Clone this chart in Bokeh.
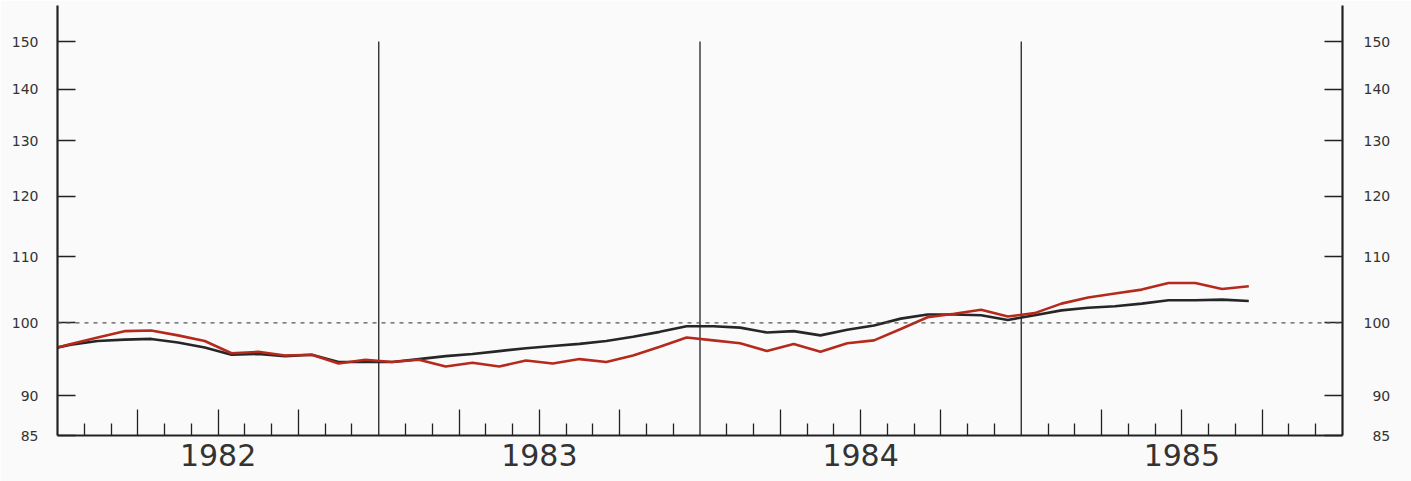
from bokeh.plotting import figure
from bokeh.models import Range1d, FixedTicker, LogAxis, Span
from bokeh.embed import file_html
from bokeh.resources import INLINE

# ---------------- data ----------------
years = [1982, 1983, 1984, 1985]
# monthly observations from Dec 1981 to Sep 1985 (index values)
start_year, start_month = 1981, 12
red = [96.0,
       97.0, 97.9, 98.8, 98.9, 98.2, 97.4, 95.7, 95.9, 95.4, 95.5, 94.3, 94.8,
       94.5, 94.8, 93.9, 94.4, 93.9, 94.7, 94.3, 94.9, 94.5, 95.4, 96.6, 97.9,
       97.5, 97.1, 96.0, 97.0, 95.9, 97.1, 97.5, 99.1, 100.8, 101.3, 101.9, 100.9,
       101.4, 102.8, 103.7, 104.3, 104.9, 105.9, 105.9, 105.0, 105.4]
black = [96.1,
         96.9, 97.4, 97.6, 97.7, 97.2, 96.5, 95.5, 95.6, 95.3, 95.5, 94.5, 94.5,
         94.5, 94.9, 95.3, 95.6, 96.0, 96.4, 96.7, 97.0, 97.4, 98.0, 98.7, 99.5,
         99.5, 99.3, 98.6, 98.8, 98.2, 99.0, 99.6, 100.6, 101.2, 101.2, 101.1, 100.4,
         101.1, 101.8, 102.2, 102.4, 102.8, 103.3, 103.3, 103.4, 103.2]
y_ticks = [85, 90, 100, 110, 120, 130, 140, 150]
reference_level = 100

# x positions: mid-month, in fractional years
x = []
for i in range(len(red)):
    m = start_month - 1 + i
    yy = start_year + m // 12
    mm = m % 12
    x.append(yy + (mm + 0.5) / 12)

x0, x1 = years[0], years[-1] + 1
y0, y1 = 85, 158.0

p = figure(width=1411, height=481, output_backend="svg", toolbar_location=None,
           x_range=Range1d(x0, x1), y_range=Range1d(y0, y1), y_axis_type="log",
           min_border_left=57, min_border_right=69, min_border_top=5,
           min_border_bottom=46)
p.background_fill_color = "#fafafa"
p.border_fill_color = "#fafafa"
p.outline_line_color = None
p.xgrid.visible = False
p.ygrid.visible = False

AX = "#222222"
TXT = "#333333"
FS = "\u2007"  # figure space, same width as a digit


def pad(v):
    s = str(v)
    return FS * (3 - len(s)) + s


# bottom axis: months (minor), quarters (major), year names at mid-year
quarters = [yv + q / 4 for yv in years for q in (1, 2, 3)]
months = [yv + m / 12 for yv in years for m in range(1, 12) if m % 3 != 0]
xa = p.xaxis[0]
xa.ticker = FixedTicker(ticks=quarters, minor_ticks=months)
xa.major_label_overrides = {q: (str(int(q)) if abs(q - int(q) - 0.5) < 1e-9 else "")
                            for q in quarters}
xa.axis_line_color = AX
xa.axis_line_width = 2.2
xa.major_tick_in = 26
xa.major_tick_out = 0
xa.minor_tick_in = 12
xa.minor_tick_out = 0
xa.major_tick_line_color = AX
xa.minor_tick_line_color = AX
xa.major_tick_line_width = 1.3
xa.minor_tick_line_width = 1.3
xa.major_label_text_font = "DejaVu Sans"
xa.major_label_text_font_size = "30px"
xa.major_label_text_color = TXT
xa.major_label_standoff = 8


def style_y(ax, standoff):
    ax.ticker = FixedTicker(ticks=y_ticks)
    ax.major_label_overrides = {t: pad(t) for t in y_ticks}
    ax.axis_line_color = AX
    ax.axis_line_width = 2.2
    ax.major_tick_in = 18
    ax.major_tick_out = 0
    ax.minor_tick_line_color = None
    ax.major_tick_line_color = AX
    ax.major_tick_line_width = 1.3
    ax.major_label_text_font = "DejaVu Sans"
    ax.major_label_text_font_size = "14px"
    ax.major_label_text_color = TXT
    ax.major_label_standoff = standoff


style_y(p.yaxis[0], 19)
ra = LogAxis()
style_y(ra, 21)
p.add_layout(ra, "right")

# reference line at 100
p.add_layout(Span(location=reference_level, dimension="width",
                  line_color="#555555", line_width=1.2, line_dash="4 5"))

# year dividers
div_x = years[1:]
p.segment(x0=div_x, y0=[y0] * len(div_x), x1=div_x, y1=[150] * len(div_x),
          line_color=AX, line_width=1.3)

# series
p.line(x, black, line_color="#262626", line_width=2.6)
p.line(x, red, line_color="#b52a1c", line_width=2.6)

open("out.html", "w").write(file_html(p, INLINE))
